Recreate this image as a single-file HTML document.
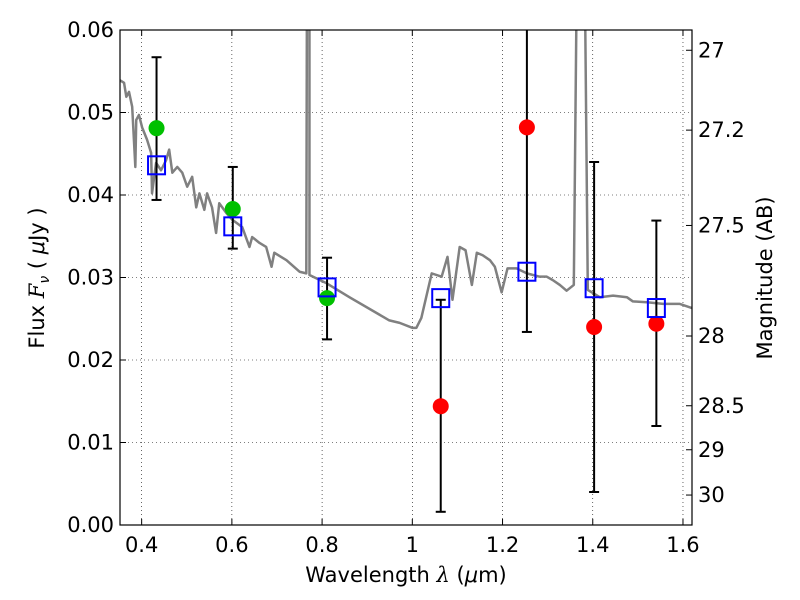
<!DOCTYPE html>
<html><head><meta charset="utf-8"><style>
body{margin:0;background:#fff;}
svg{display:block;font-family:"DejaVu Sans","Liberation Sans",sans-serif;}
</style></head><body>
<svg id="chart" width="800" height="600"></svg>
<script>
const specWave=[0.352,0.361,0.366,0.372,0.379,0.386,0.388,0.394,0.401,0.412,0.421,0.423,0.432,0.443,0.454,0.461,0.468,0.479,0.490,0.501,0.512,0.521,0.528,0.539,0.545,0.556,0.565,0.572,0.588,0.601,0.623,0.639,0.645,0.661,0.676,0.688,0.694,0.721,0.750,0.765,0.767,0.772,0.772,0.810,0.861,0.927,0.949,0.972,1.000,1.009,1.020,1.043,1.065,1.078,1.089,1.105,1.118,1.132,1.143,1.156,1.172,1.183,1.198,1.211,1.231,1.254,1.282,1.298,1.311,1.327,1.342,1.358,1.367,1.380,1.389,1.416,1.445,1.476,1.489,1.520,1.556,1.593,1.620];
const specFlux=[0.0539,0.0536,0.0519,0.0525,0.0507,0.0434,0.0491,0.0497,0.0482,0.0467,0.0451,0.0402,0.0439,0.0430,0.0442,0.0455,0.0427,0.0434,0.0427,0.0410,0.0422,0.0385,0.0402,0.0382,0.0402,0.0385,0.0354,0.0390,0.0378,0.0370,0.0361,0.0337,0.0349,0.0342,0.0337,0.0313,0.0330,0.0321,0.0307,0.0305,0.08,0.08,0.0303,0.0293,0.0276,0.0255,0.0248,0.0245,0.0239,0.0239,0.0251,0.0305,0.0301,0.0325,0.0273,0.0337,0.0333,0.0291,0.0330,0.0327,0.0321,0.0313,0.0282,0.0311,0.0311,0.0305,0.0301,0.0301,0.0297,0.0291,0.0284,0.0291,0.08,0.08,0.0285,0.0276,0.0278,0.0276,0.0271,0.0270,0.0268,0.0268,0.0263];
const obsWave=[0.433,0.602,0.811,1.063,1.254,1.403,1.541];
const obsFlux=[0.0481,0.0383,0.0275,0.0144,0.0482,0.0240,0.0244];
const errHi=[0.0567,0.0434,0.0324,0.0273,0.08,0.0440,0.0369];
const errLo=[0.0394,0.0335,0.0225,0.0016,0.0234,0.0040,0.0120];
const obsColor=['#00c000','#00c000','#00c000','#ff0000','#ff0000','#ff0000','#ff0000'];
const modelFlux=[0.0436,0.0362,0.0288,0.0275,0.0307,0.0287,0.0263];
const xTicks=[0.4,0.6,0.8,1.0,1.2,1.4,1.6];
const xTickLabels=['0.4','0.6','0.8','1','1.2','1.4','1.6'];
const yTicks=[0,0.01,0.02,0.03,0.04,0.05,0.06];
const yTickLabels=['0.00','0.01','0.02','0.03','0.04','0.05','0.06'];
const magTicks=[27,27.2,27.5,28,28.5,29,30];
const magTickLabels=['27','27.2','27.5','28','28.5','29','30'];

const L=120,R=692,T=30,B=525,X0=0.352,X1=1.62,Y0=0,Y1=0.06;
const sx=v=>L+(v-X0)/(X1-X0)*(R-L);
const sy=v=>B-(v-Y0)/(Y1-Y0)*(B-T);
const magToFlux=m=>Math.pow(10,(23.9-m)/2.5);
const NS='http://www.w3.org/2000/svg';
const svg=document.getElementById('chart');
function mk(tag,attrs,parent){const e=document.createElementNS(NS,tag);for(const k in attrs)e.setAttribute(k,attrs[k]);(parent||svg).appendChild(e);return e;}

const defs=mk('defs',{});
const cp=mk('clipPath',{id:'clip'},defs);
mk('rect',{x:L,y:T,width:R-L,height:B-T},cp);

xTicks.forEach((t,i)=>{
  const g=mk('line',{x1:sx(t),x2:sx(t),y1:T,y2:B,stroke:'#000','stroke-width':0.6,'stroke-dasharray':'1,3'});
  
  
  const tk=mk('line',{x1:sx(t),x2:sx(t),y1:B,y2:B-6,stroke:'#000','stroke-width':1});
  
  
  mk('line',{x1:sx(t),x2:sx(t),y1:T,y2:T+6,stroke:'#000','stroke-width':1});
  const lb=mk('text',{x:sx(t),y:B+27,'font-size':21,'text-anchor':'middle'});
  lb.textContent=xTickLabels[i];
  
  
});
yTicks.forEach((t,i)=>{
  const g=mk('line',{x1:L,x2:R,y1:sy(t),y2:sy(t),stroke:'#000','stroke-width':0.6,'stroke-dasharray':'1,3'});
  
  
  mk('line',{x1:L,x2:L+6,y1:sy(t),y2:sy(t),stroke:'#000','stroke-width':1});
  const lb=mk('text',{x:L-6,y:sy(t)+7,'font-size':21,'text-anchor':'end'});
  lb.textContent=yTickLabels[i];
  
  
});
magTicks.forEach((m,i)=>{
  const y=sy(magToFlux(m));
  const tk=mk('line',{x1:R-6,x2:R,y1:y,y2:y,stroke:'#000','stroke-width':1});
  
  
  const lb=mk('text',{x:R+6,y:y+7,'font-size':21});
  lb.textContent=magTickLabels[i];
  
  
});

const gp=mk('g',{'clip-path':'url(#clip)'});
const sp=mk('polyline',{points:specWave.map((w,i)=>sx(w)+','+sy(specFlux[i])).join(' '),fill:'none',stroke:'#808080','stroke-width':2.5,'stroke-linejoin':'round'},gp);



obsWave.forEach((w,i)=>{
  const x=sx(w);
  const e=mk('line',{x1:x,x2:x,y1:sy(errHi[i]),y2:sy(errLo[i]),stroke:'#000','stroke-width':2},gp);
  
  
  [errHi[i],errLo[i]].forEach(v=>mk('line',{x1:x-5,x2:x+5,y1:sy(v),y2:sy(v),stroke:'#000','stroke-width':2},gp));
});
obsWave.forEach((w,i)=>{
  const c=mk('circle',{cx:sx(w),cy:sy(obsFlux[i]),r:8,fill:obsColor[i]},gp);
  
  
});
obsWave.forEach((w,i)=>{
  const s=mk('rect',{x:sx(w)-8.5,y:sy(modelFlux[i])-9,width:17,height:18,fill:'none',stroke:'#0000ff','stroke-width':2},gp);
  
  
});

const fr=mk('rect',{x:L,y:T,width:R-L,height:B-T,fill:'none',stroke:'#000','stroke-width':1.2});



const xl=mk('text',{x:406,y:582,'font-size':21,'text-anchor':'middle'});
xl.innerHTML='Wavelength  <tspan font-style="italic" font-family="DejaVu Serif, serif">λ</tspan> (<tspan font-style="italic">μ</tspan>m)';


const yl=mk('text',{x:44,y:278,'font-size':21,'text-anchor':'middle',transform:'rotate(-90 44 278)'});
yl.innerHTML='Flux  <tspan font-style="italic" font-family="DejaVu Serif, serif">F</tspan><tspan font-size="14" dy="5" font-style="italic">ν</tspan><tspan dy="-5">  (  </tspan><tspan font-style="italic">μ</tspan>Jy )';


const ml=mk('text',{x:772,y:278,'font-size':21,'text-anchor':'middle',transform:'rotate(-90 772 278)'});
ml.textContent='Magnitude (AB)';


</script>
</body></html>
